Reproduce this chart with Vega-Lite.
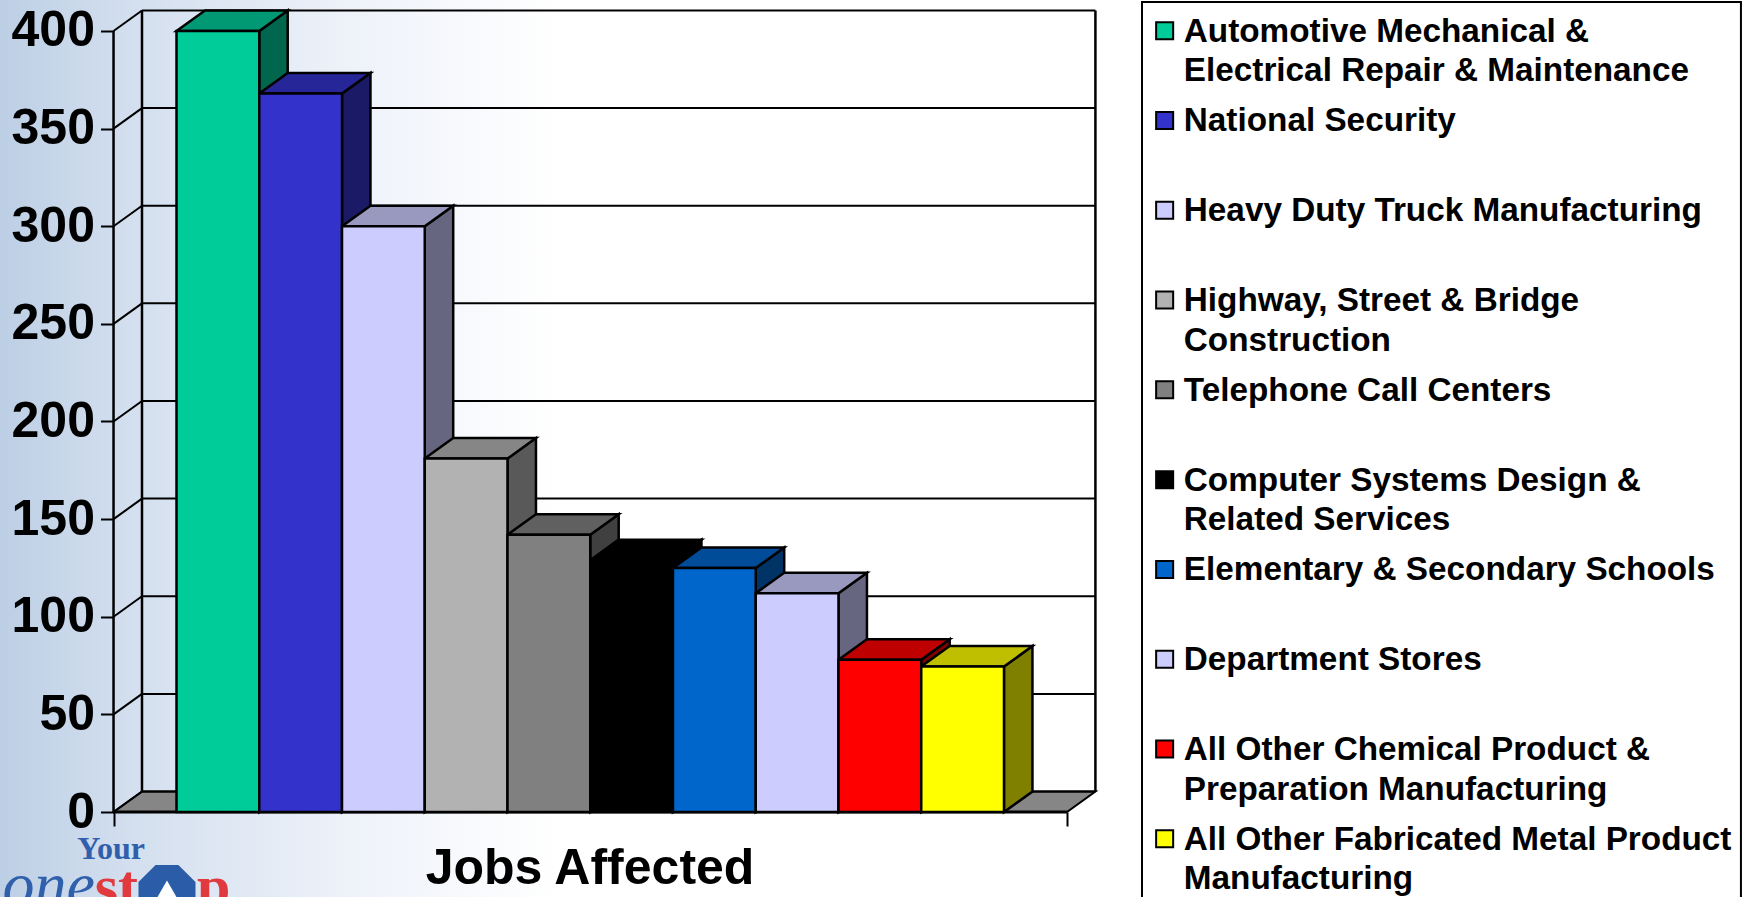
{
"$schema":"https://vega.github.io/schema/vega-lite/v6.json",
"width":1744,"height":897,"padding":0,"autosize":"none",
"config":{"view":{"stroke":null},"font":"Liberation Sans"},
"data":{"values":[{}]},
"datasets":{
"bars":[
{"name":"Automotive Mechanical &\nElectrical Repair & Maintenance","idx":0,"jobs":400},
{"name":"National Security","idx":1,"jobs":368},
{"name":"Heavy Duty Truck Manufacturing","idx":2,"jobs":300},
{"name":"Highway, Street & Bridge\nConstruction","idx":3,"jobs":181},
{"name":"Telephone Call Centers","idx":4,"jobs":142},
{"name":"Computer Systems Design &\nRelated Services","idx":5,"jobs":129},
{"name":"Elementary & Secondary Schools","idx":6,"jobs":125},
{"name":"Department Stores","idx":7,"jobs":112},
{"name":"All Other Chemical Product &\nPreparation Manufacturing","idx":8,"jobs":78},
{"name":"All Other Fabricated Metal Product\nManufacturing","idx":9,"jobs":74.5}
],
"grid":[{"v":0},{"v":50},{"v":100},{"v":150},{"v":200},{"v":250},{"v":300},{"v":350},{"v":400}]
},
"resolve":{"scale":{"color":"independent"}},
"layer":[
{"mark":{"type":"rect","color":{"gradient":"linear","x1":0,"x2":1,"y1":0,"y2":0,"stops":[{"offset":0,"color":"#BDCFE5"},{"offset":0.07,"color":"#D2DEEE"},{"offset":0.2,"color":"#EEF2F9"},{"offset":0.32,"color":"#FFFFFF"},{"offset":1,"color":"#FFFFFF"}]}},
"encoding":{
"x":{"datum":-2.133,"type":"quantitative","scale":{"domain":[-2.133,18.943],"nice":false,"zero":false},
"axis":{"values":[-0.761,10.761],"labels":false,"domain":false,"grid":false,"tickSize":14,"tickColor":"black","tickWidth":2,"offset":-85,"zindex":1,"title":"Jobs Affected","titleFont":"Liberation Sans","titleFontSize":50,"titleFontWeight":"bold","titleColor":"black","titleAlign":"center","titleBaseline":"alphabetic","titleX":589.5,"titleY":71,"titlePadding":0}},
"x2":{"datum":18.943},
"y":{"datum":415.87,"type":"quantitative","scale":{"domain":[-43.53,415.87],"nice":false,"zero":false},
"axis":{"values":[0,50,100,150,200,250,300,350,400],"domain":false,"grid":false,"tickSize":13,"tickColor":"black","tickWidth":2,"offset":-113.5,"zindex":1,"title":null,"labelFont":"Liberation Sans","labelFontSize":50,"labelFontWeight":"bold","labelColor":"black","labelPadding":6}},
"y2":{"datum":-43.53}}},
{"data":{"values":[{"t":0,"a":-0.761,"b":10.761,"lvl":0},{"t":1,"a":-0.417,"b":11.105,"lvl":10.5}]},
"mark":{"type":"area","orient":"horizontal","fill":"#868686","stroke":"black","strokeWidth":2},
"encoding":{"y":{"field":"lvl","type":"quantitative"},"x":{"field":"a","type":"quantitative"},"x2":{"field":"b"}}},
{"data":{"name":"grid"},"transform":[{"calculate":"datum.v+10.5","as":"b"}],
"mark":{"type":"rule","color":"black","strokeWidth":2},
"encoding":{"x":{"datum":-0.417,"type":"quantitative"},"x2":{"datum":11.105},"y":{"field":"b","type":"quantitative"}}},
{"data":{"name":"grid"},"transform":[{"calculate":"datum.v+10.5","as":"b"}],
"mark":{"type":"rule","color":"black","strokeWidth":2},
"encoding":{"x":{"datum":-0.761,"type":"quantitative"},"x2":{"datum":-0.417},"y":{"field":"v","type":"quantitative"},"y2":{"field":"b"}}},
{"data":{"values":[{"x":-0.761,"lo":0,"hi":400},{"x":-0.417,"lo":10.5,"hi":410.5},{"x":11.105,"lo":10.5,"hi":410.5}]},
"mark":{"type":"rule","color":"black","strokeWidth":2.5},
"encoding":{"x":{"field":"x","type":"quantitative"},"y":{"field":"lo","type":"quantitative"},"y2":{"field":"hi"}}},
{"data":{"name":"bars"},"transform":[{"calculate":"[0,1]","as":"t"},{"flatten":["t"]},{"calculate":"datum.idx+1+datum.t*0.344","as":"sx"},{"calculate":"datum.t*10.5","as":"lo"},{"calculate":"datum.jobs+datum.t*10.5","as":"hi"}],
"mark":{"type":"area","stroke":"black","strokeWidth":2.5},
"encoding":{"x":{"field":"sx","type":"quantitative"},"y":{"field":"hi","type":"quantitative"},"y2":{"field":"lo"},
"color":{"field":"name","type":"nominal","legend":null,"scale":{"domain":["Automotive Mechanical &\nElectrical Repair & Maintenance","National Security","Heavy Duty Truck Manufacturing","Highway, Street & Bridge\nConstruction","Telephone Call Centers","Computer Systems Design &\nRelated Services","Elementary & Secondary Schools","Department Stores","All Other Chemical Product &\nPreparation Manufacturing","All Other Fabricated Metal Product\nManufacturing"],"range":["#00664D","#1A1A66","#666680","#595959","#404040","#000000","#003366","#666680","#800000","#808000"]}}}},
{"data":{"name":"bars"},"transform":[{"calculate":"[0,1]","as":"t"},{"flatten":["t"]},{"calculate":"datum.idx+datum.t*0.344","as":"xa"},{"calculate":"datum.idx+1+datum.t*0.344","as":"xb"},{"calculate":"datum.jobs+datum.t*10.5","as":"lvl"}],
"mark":{"type":"area","orient":"horizontal","stroke":"black","strokeWidth":2.5},
"encoding":{"y":{"field":"lvl","type":"quantitative"},"x":{"field":"xa","type":"quantitative"},"x2":{"field":"xb"},
"color":{"field":"name","type":"nominal","legend":null,"scale":{"domain":["Automotive Mechanical &\nElectrical Repair & Maintenance","National Security","Heavy Duty Truck Manufacturing","Highway, Street & Bridge\nConstruction","Telephone Call Centers","Computer Systems Design &\nRelated Services","Elementary & Secondary Schools","Department Stores","All Other Chemical Product &\nPreparation Manufacturing","All Other Fabricated Metal Product\nManufacturing"],"range":["#009973","#262699","#9999BF","#868686","#606060","#000000","#004C99","#9999BF","#BF0000","#BFBF00"]}}}},
{"data":{"name":"grid"},"transform":[{"filter":"datum.v==0"}],
"mark":{"type":"rule","color":"black","strokeWidth":3},
"encoding":{"x":{"datum":-0.761,"type":"quantitative"},"x2":{"datum":10.761},"y":{"field":"v","type":"quantitative"}}},
{"data":{"values":[{"l":11.668,"r":18.906,"t":414.85,"b":-60}]},
"mark":{"type":"rect","fill":"white","stroke":"black","strokeWidth":2},
"encoding":{"x":{"field":"l","type":"quantitative"},"x2":{"field":"r"},"y":{"field":"t","type":"quantitative"},"y2":{"field":"b"}}},
{"data":{"name":"bars"},"transform":[{"calculate":"datum.idx+1","as":"right"}],
"mark":{"type":"rect","stroke":"black","strokeWidth":2.5},
"encoding":{"x":{"field":"idx","type":"quantitative"},"x2":{"field":"right"},"y":{"field":"jobs","type":"quantitative"},"y2":{"datum":0},
"color":{"field":"name","type":"nominal","scale":{"domain":["Automotive Mechanical &\nElectrical Repair & Maintenance","National Security","Heavy Duty Truck Manufacturing","Highway, Street & Bridge\nConstruction","Telephone Call Centers","Computer Systems Design &\nRelated Services","Elementary & Secondary Schools","Department Stores","All Other Chemical Product &\nPreparation Manufacturing","All Other Fabricated Metal Product\nManufacturing"],"range":["#00CC99","#3333CC","#CCCCFF","#B2B2B2","#808080","#000000","#0066CC","#CCCCFF","#FF0000","#FFFF00"]},
"legend":{"orient":"none","legendX":1148,"legendY":14,"title":null,"padding":0,"gridAlign":"all","rowPadding":15.8,"labelExpr":"split(datum.label,'\\n')","labelFont":"Liberation Sans","labelFontSize":33.3,"labelFontWeight":"bold","labelColor":"black","labelLimit":600,"labelBaseline":"alphabetic","labelOffset":2.5,"symbolType":"square","symbolSize":290,"symbolStrokeColor":"black","symbolStrokeWidth":2,"encoding":{"labels":{"lineHeight":{"value":39.5},"dy":{"value":11}}}}}}},
{"mark":{"type":"text","text":"Your","font":"Liberation Serif","fontWeight":"bold","fontSize":32,"color":"#3060AC","align":"center","baseline":"alphabetic"},
"encoding":{"x":{"datum":-0.79,"type":"quantitative"},"y":{"datum":-24.3,"type":"quantitative"}}},
{"mark":{"type":"text","text":"one","font":"Liberation Serif","fontStyle":"italic","fontSize":64,"color":"#3060AC","align":"right","baseline":"alphabetic"},
"encoding":{"x":{"datum":-0.985,"type":"quantitative"},"y":{"datum":-48,"type":"quantitative"}}},
{"mark":{"type":"text","text":"st","font":"Liberation Serif","fontWeight":"bold","fontSize":60,"color":"#E0393E","align":"right","baseline":"alphabetic"},
"encoding":{"x":{"datum":-0.465,"type":"quantitative"},"y":{"datum":-48,"type":"quantitative"}}},
{"mark":{"type":"point","shape":"M-0.4,-1 L0.4,-1 L1,-0.4 L1,0.4 L0.4,1 L-0.4,1 L-1,0.4 L-1,-0.4 Z","filled":true,"size":3249,"color":"#2A5CA8","opacity":1},
"encoding":{"x":{"datum":-0.115,"type":"quantitative"},"y":{"datum":-41.7,"type":"quantitative"}}},
{"mark":{"type":"point","shape":"triangle-up","filled":true,"size":484,"color":"white","opacity":1},
"encoding":{"x":{"datum":-0.115,"type":"quantitative"},"y":{"datum":-40,"type":"quantitative"}}},
{"mark":{"type":"text","text":"p","font":"Liberation Serif","fontWeight":"bold","fontSize":60,"color":"#E0393E","align":"left","baseline":"alphabetic"},
"encoding":{"x":{"datum":0.248,"type":"quantitative"},"y":{"datum":-48,"type":"quantitative"}}}
]
}
